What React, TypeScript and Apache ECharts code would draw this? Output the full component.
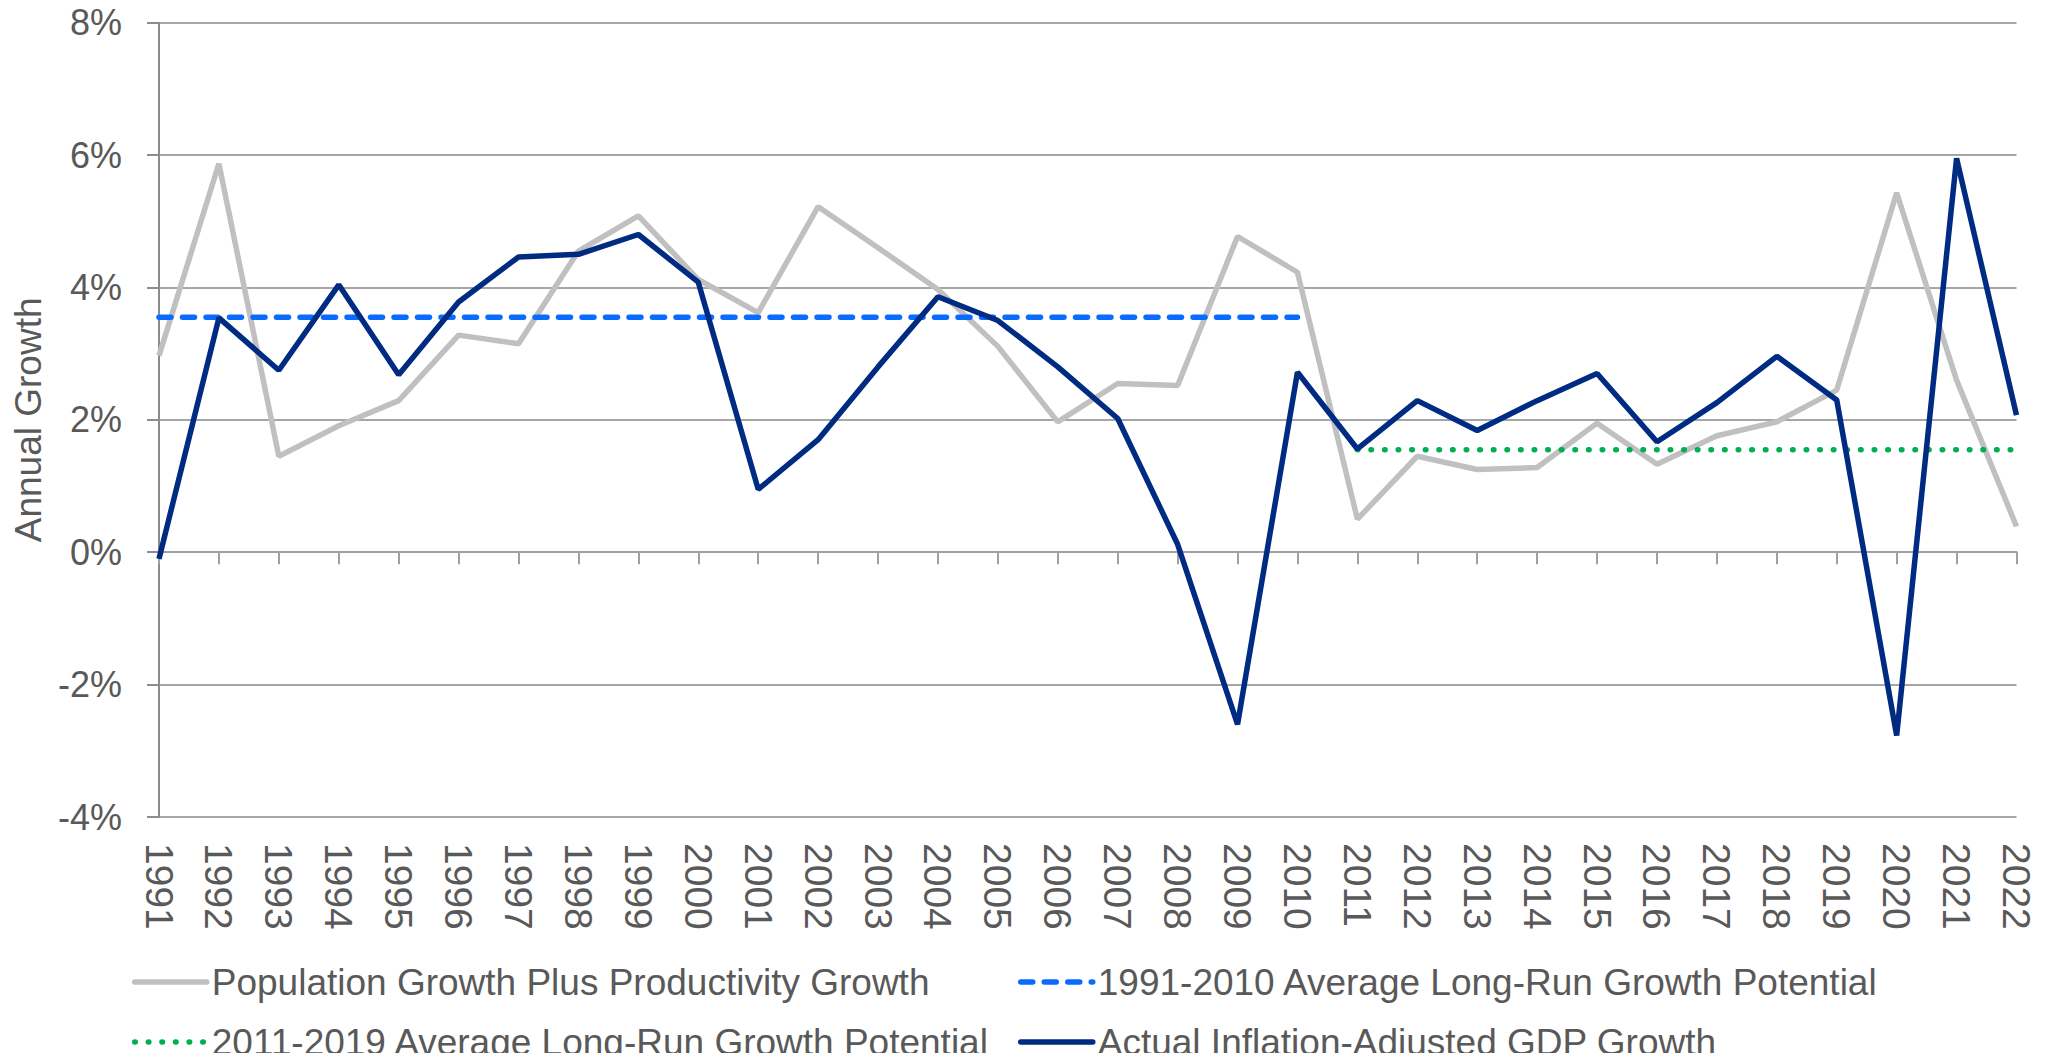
import React, { useEffect, useRef } from "react";
import * as echarts from "echarts";

const years = [
  "1991", "1992", "1993", "1994", "1995", "1996", "1997", "1998", "1999", "2000",
  "2001", "2002", "2003", "2004", "2005", "2006", "2007", "2008", "2009", "2010",
  "2011", "2012", "2013", "2014", "2015", "2016", "2017", "2018", "2019", "2020",
  "2021", "2022",
];

const popPlusProductivity = [
  2.97, 5.87, 1.45, 1.91, 2.29, 3.28, 3.15, 4.55, 5.08, 4.12,
  3.62, 5.22, 4.6, 3.97, 3.11, 1.97, 2.55, 2.52, 4.77, 4.23,
  0.5, 1.45, 1.25, 1.28, 1.95, 1.33, 1.76, 1.97, 2.45, 5.43,
  2.6, 0.39,
];

const actualGdp = [
  -0.1, 3.54, 2.75, 4.04, 2.68, 3.78, 4.46, 4.5, 4.8, 4.08,
  0.95, 1.7, 2.8, 3.86, 3.5, 2.8, 2.02, 0.12, -2.6, 2.72,
  1.56, 2.29, 1.84, 2.29, 2.7, 1.67, 2.26, 2.96, 2.3, -2.77,
  5.95, 2.07,
];

const avg1991to2010 = 3.55;
const avg2011to2019 = 1.55;
const avgEarlyFrom = "1991";
const avgEarlyTo = "2010";
const avgLateFrom = "2011";
const avgLateTo = "2022";

const yTicks = [-4, -2, 0, 2, 4, 6, 8];

const names = {
  pop: "Population Growth Plus Productivity Growth",
  early: "1991-2010 Average Long-Run Growth Potential",
  late: "2011-2019 Average Long-Run Growth Potential",
  gdp: "Actual Inflation-Adjusted GDP Growth",
};

function spanSeries(value: number, from: string, to: string) {
  const a = years.indexOf(from);
  const b = years.indexOf(to);
  return years.map((_, i) => (i >= a && i <= b ? value : null));
}

const FONT = '"Liberation Sans", Arial, sans-serif';
const TEXT = "#595959";

export default function App() {
  const ref = useRef<HTMLDivElement>(null);
  useEffect(() => {
    if (!ref.current) return;
    const chart = echarts.init(ref.current, undefined, { renderer: "svg" });
    const legendBase = {
      orient: "horizontal" as const,
      padding: 0,
      itemWidth: 72,
      itemHeight: 14,
      itemGap: 0,
      itemTextGap: 8,
      selectedMode: false,
      itemStyle: { color: "rgba(0,0,0,0)", borderWidth: 0, opacity: 0 },
      lineStyle: { width: 5.5, cap: "round" as const },
      textStyle: { color: TEXT, fontSize: 37, fontFamily: FONT, lineHeight: 40 },
    };
    chart.setOption({
      animation: false,
      backgroundColor: "#ffffff",
      textStyle: { fontFamily: FONT },
      grid: { left: 159, right: 41.5, top: 22.7, bottom: 244, containLabel: false },
      legend: [
        { ...legendBase, left: 132, top: 962, data: [names.pop] },
        { ...legendBase, left: 1018, top: 962, data: [names.early] },
        { ...legendBase, left: 132, top: 1022, data: [names.late] },
        { ...legendBase, left: 1018, top: 1022, data: [names.gdp] },
      ],
      xAxis: [
        {
          type: "category",
          data: years,
          boundaryGap: false,
          position: "bottom",
          axisLine: { show: false, onZero: false },
          axisTick: { show: false },
          axisLabel: {
            rotate: -90,
            margin: 26,
            color: TEXT,
            fontSize: 39,
            fontFamily: FONT,
            interval: 0,
          },
          splitLine: { show: false },
        },
        {
          type: "category",
          data: years,
          boundaryGap: false,
          position: "top",
          axisLine: { show: true, onZero: true, lineStyle: { color: "#a0a0a0", width: 2 } },
          axisTick: {
            show: true,
            inside: true,
            length: 12,
            interval: 0,
            lineStyle: { color: "#a0a0a0", width: 2 },
          },
          axisLabel: { show: false },
          splitLine: { show: false },
        },
      ],
      yAxis: {
        type: "value",
        min: yTicks[0],
        max: yTicks[yTicks.length - 1],
        interval: 2,
        name: "Annual Growth",
        nameLocation: "middle",
        nameGap: 112,
        nameTextStyle: { color: TEXT, fontSize: 37, fontFamily: FONT },
        axisLine: { show: true, lineStyle: { color: "#8c8c8c", width: 2 } },
        axisTick: { show: true, length: 12, lineStyle: { color: "#8c8c8c", width: 2 } },
        axisLabel: {
          color: TEXT,
          fontSize: 36,
          fontFamily: FONT,
          margin: 37,
          formatter: (v: number) => `${v}%`,
        },
        splitLine: { show: true, lineStyle: { color: "#a6a6a6", width: 2 } },
      },
      series: [
        {
          name: names.pop,
          type: "line",
          data: popPlusProductivity,
          symbol: "none",
          lineStyle: { color: "#c0c0c0", width: 5.5 },
          itemStyle: { color: "#c0c0c0" },
          z: 2,
        },
        {
          name: names.early,
          type: "line",
          data: spanSeries(avg1991to2010, avgEarlyFrom, avgEarlyTo),
          symbol: "none",
          lineStyle: { color: "#0a6cff", width: 5.5, type: [12, 11.5], cap: "round" },
          itemStyle: { color: "#0a6cff" },
          z: 3,
        },
        {
          name: names.late,
          type: "line",
          data: spanSeries(avg2011to2019, avgLateFrom, avgLateTo),
          symbol: "none",
          lineStyle: { color: "#00b050", width: 5.5, type: [0.5, 13.1], cap: "round" },
          itemStyle: { color: "#00b050" },
          z: 3,
        },
        {
          name: names.gdp,
          type: "line",
          data: actualGdp,
          symbol: "none",
          lineStyle: { color: "#002b82", width: 5.5 },
          itemStyle: { color: "#002b82" },
          z: 4,
        },
      ],
    });
    return () => chart.dispose();
  }, []);
  return <div ref={ref} style={{ width: 2058, height: 1061, margin: -8 }} />;
}
